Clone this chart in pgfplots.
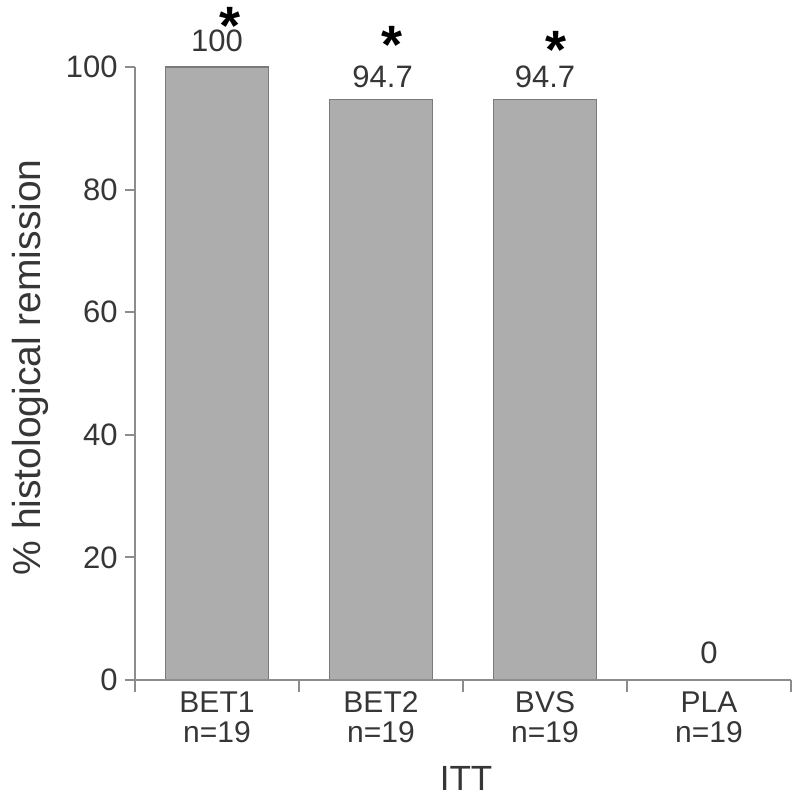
\documentclass[border=0pt]{standalone}
\usepackage{pgfplots}
\pgfplotsset{compat=1.18}
\usepackage{fontspec}
\setmainfont{Liberation Sans}
\definecolor{txt}{HTML}{363636}
\definecolor{axgray}{HTML}{8C8C8C}
\definecolor{barfill}{HTML}{ADADAD}
\definecolor{baredge}{HTML}{7A7A7A}
\newcommand{\sigstar}{\raisebox{-0.28em}[0.42em][0pt]{*}}
\begin{document}
\begin{tikzpicture}
\begin{axis}[
  scale only axis, width=328pt, height=306.5pt,
  xmin=-0.5, xmax=3.5, ymin=0, ymax=100,
  clip=false, axis on top,
  axis x line*=bottom, axis y line*=left,
  axis line style={axgray, line width=1pt},
  tick align=outside,
  ytick={0,20,...,100},
  major tick length=5pt,
  minor tick length=6pt,
  ytick style={axgray, line width=1pt},
  xtick={0,1,2,3},
  xticklabels={{BET1\\n=19},{BET2\\n=19},{BVS\\n=19},{PLA\\n=19}},
  major x tick style={draw=none},
  minor xtick={-0.5,0.5,1.5,2.5,3.5},
  minor x tick style={axgray, line width=1pt},
  /pgf/number format/assume math mode=true,
  yticklabel style={font=\fontsize{15.5}{18}\selectfont, text=txt, inner sep=0pt, xshift=-3.5pt},
  xticklabel style={font=\fontsize{15}{15}\selectfont, text=txt, align=center, inner sep=0pt, anchor=north, yshift=-0.5pt},
  ylabel={\% histological remission},
  ylabel style={font=\fontsize{19.5}{22}\selectfont, text=txt, at={(axis description cs:-0.16,0.51)}, anchor=center},
  xlabel={ITT},
  xlabel style={font=\fontsize{17.5}{20}\selectfont, text=txt, at={(axis description cs:0.5046,-0.16)}, anchor=center},
]
\addplot[ybar, bar width=51.5pt, fill=barfill, draw=baredge, line width=0.8pt]
  coordinates {(0,100) (1,94.7) (2,94.7) (3,0)};
\coordinate (ll) at (rel axis cs:0,0);
\coordinate (ur) at (rel axis cs:1,1);
\node[anchor=base, inner sep=0pt, text=txt, font=\fontsize{15.5}{18}\selectfont] at (axis cs:0,102.45) {100};
\node[anchor=base, inner sep=0pt, text=txt, font=\fontsize{15.5}{18}\selectfont] at (axis cs:1.01,96.7) {94.7};
\node[anchor=base, inner sep=0pt, text=txt, font=\fontsize{15.5}{18}\selectfont] at (axis cs:2.0,96.7) {94.7};
\node[anchor=base, inner sep=0pt, text=txt, font=\fontsize{15.5}{18}\selectfont] at (axis cs:3.0,2.77) {0};
\node[anchor=base, inner sep=0pt, font=\bfseries\fontsize{27}{27}\selectfont] at (axis cs:0.08,106.2) {\sigstar};
\node[anchor=base, inner sep=0pt, font=\bfseries\fontsize{27}{27}\selectfont] at (axis cs:1.07,103.0) {\sigstar};
\node[anchor=base, inner sep=0pt, font=\bfseries\fontsize{27}{27}\selectfont] at (axis cs:2.07,102.2) {\sigstar};
\end{axis}
\pgfresetboundingbox
\useasboundingbox ([xshift=-67.5pt,yshift=-57.5pt]ll) rectangle ([xshift=0.5pt,yshift=33.5pt]ur);
\end{tikzpicture}
\end{document}
